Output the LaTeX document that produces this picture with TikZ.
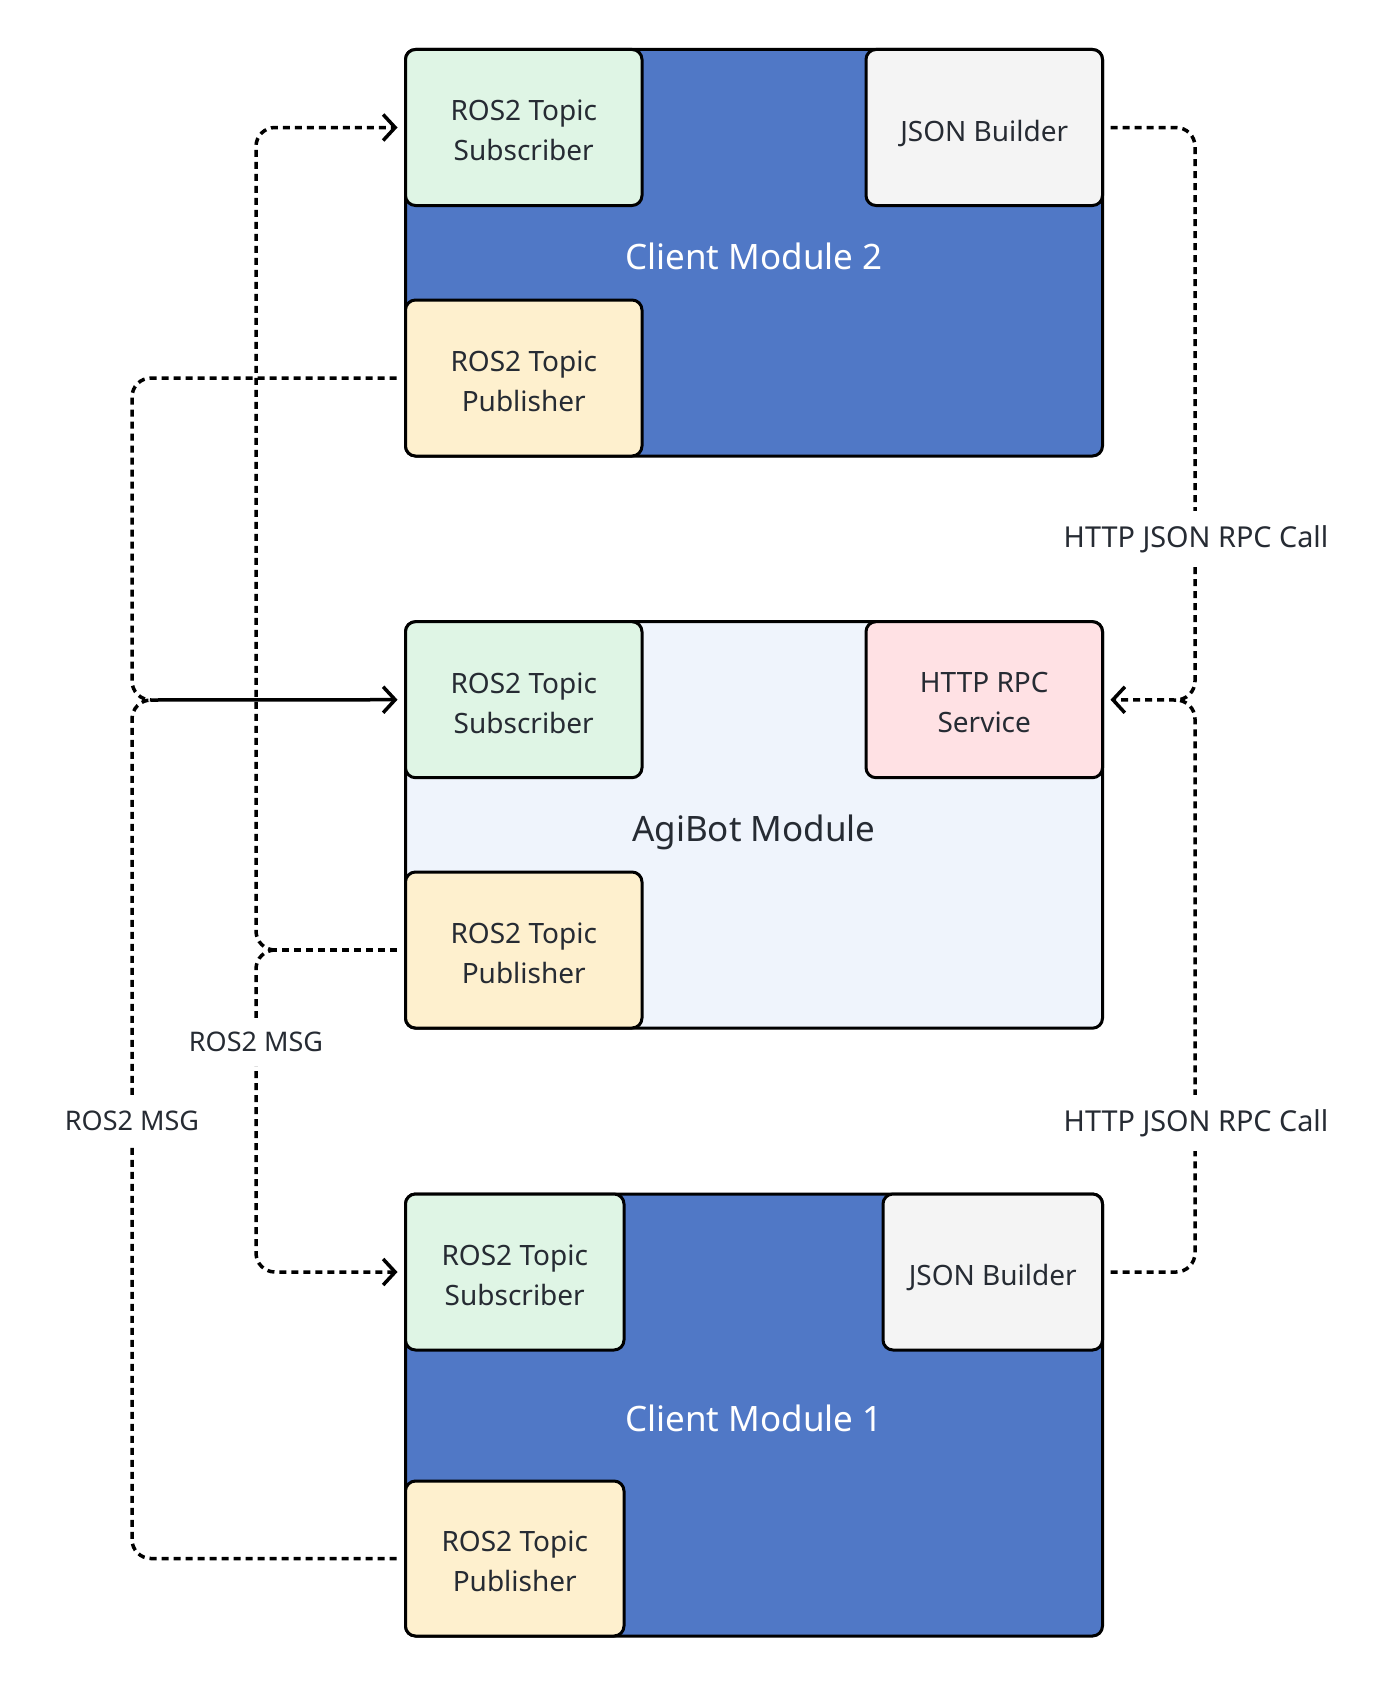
\documentclass[tikz,border=0pt]{standalone}
\usepackage{fontspec}
\setmainfont{Noto Sans}
\usetikzlibrary{arrows.meta}
\definecolor{cmblue}{HTML}{5078C6}
\definecolor{subgreen}{HTML}{DFF5E5}
\definecolor{pubyellow}{HTML}{FEF0CE}
\definecolor{jsongrey}{HTML}{F4F4F4}
\definecolor{rpcpink}{HTML}{FFE1E4}
\definecolor{agibg}{HTML}{EFF4FC}
\definecolor{txt}{HTML}{262B33}
\tikzset{
  modbox/.style={draw=black, line width=3pt, rounded corners=10pt, outer sep=0pt, anchor=north west},
  inbox/.style={draw=black, line width=3pt, rounded corners=10pt, outer sep=0pt, anchor=north west},
  titletext/.style={font=\fontsize{35}{42}\selectfont, text depth=0pt, yshift=-3.5pt, inner sep=0pt},
  boxtext/.style={align=center, text=txt, font=\fontsize{28}{40}\selectfont, text depth=0pt, yshift=-3pt, inner sep=0pt},
  conn/.style={line width=3.5pt, dash pattern=on 7pt off 5pt, rounded corners=19pt},
  tip/.style={-{Straight Barb[length=12pt,width=26pt,line width=3.5pt]}},
  lbl/.style={fill=white, text=txt, inner xsep=4pt, inner ysep=14pt, font=\fontsize{27}{32}\selectfont},
  lblwide/.style={lbl, font=\fontsize{28.8}{34}\selectfont}
}
\begin{document}
\begin{tikzpicture}[x=1pt,y=-1pt]
\useasboundingbox[fill=white] (0,0) rectangle (1394,1686);

% Client Module 2
\node[modbox, fill=cmblue, minimum width=697pt, minimum height=406.5pt] (cm2) at (405.5,49.5) {};
\node[titletext, text=white] (cm2t) at (cm2.center) {Client Module 2};
\node[inbox, fill=subgreen, minimum width=236.5pt, minimum height=156pt] (cm2sub) at (405.5,49.5) {};
\node[inbox, fill=jsongrey, minimum width=236.5pt, minimum height=156pt] (cm2json) at (866,49.5) {};
\node[inbox, fill=pubyellow, minimum width=236.5pt, minimum height=156pt] (cm2pub) at (405.5,300) {};
\node[boxtext] (cm2subt) at (cm2sub.center) {ROS2 Topic\\Subscriber};
\node[boxtext] (cm2jsont) at (cm2json.center) {JSON Builder};
\node[boxtext] (cm2pubt) at (cm2pub.center) {ROS2 Topic\\Publisher};

% AgiBot Module
\node[modbox, fill=agibg, minimum width=697pt, minimum height=406.5pt] (agi) at (405.5,621.7) {};
\node[titletext, text=txt] (agit) at (agi.center) {AgiBot Module};
\node[inbox, fill=subgreen, minimum width=236.5pt, minimum height=156pt] (agsub) at (405.5,621.7) {};
\node[inbox, fill=rpcpink, minimum width=236.5pt, minimum height=156pt] (rpc) at (866,621.7) {};
\node[inbox, fill=pubyellow, minimum width=236.5pt, minimum height=156pt] (agpub) at (405.5,872) {};
\node[boxtext] (agsubt) at (agsub.center) {ROS2 Topic\\Subscriber};
\node[boxtext] (rpct) at (rpc.center) {HTTP RPC\\Service};
\node[boxtext] (agpubt) at (agpub.center) {ROS2 Topic\\Publisher};

% Client Module 1
\node[modbox, fill=cmblue, minimum width=697pt, minimum height=442pt] (cm1) at (405.5,1194) {};
\node[titletext, text=white] (cm1t) at (cm1.center) {Client Module 1};
\node[inbox, fill=subgreen, minimum width=218.5pt, minimum height=156pt] (cm1sub) at (405.5,1194) {};
\node[inbox, fill=jsongrey, minimum width=219.5pt, minimum height=156pt] (cm1json) at (883,1194) {};
\node[inbox, fill=pubyellow, minimum width=218.5pt, minimum height=155pt] (cm1pub) at (405.5,1481) {};
\node[boxtext] (cm1subt) at (cm1sub.center) {ROS2 Topic\\Subscriber};
\node[boxtext] (cm1jsont) at (cm1json.center) {JSON Builder};
\node[boxtext] (cm1pubt) at (cm1pub.center) {ROS2 Topic\\Publisher};

% join points
\coordinate (ljoin) at (151,700);
\coordinate (ijoin) at (275,950);
\coordinate (rjoin) at (1176,700);

% left: publishers of client modules -> AgiBot subscriber
\draw[conn, shorten <=9pt] (cm2pub.west) -- (132,378) -- (132,700) -- (ljoin);
\draw[conn, shorten <=9pt] (cm1pub.west) -- (132,1558.5) -- (132,700) -- (ljoin);
\draw[line width=3.5pt, tip, shorten >=8pt] (ljoin) -- (agsub.west);

% inner: AgiBot publisher -> client subscribers
\draw[conn, shorten <=9pt] (agpub.west) -- (ijoin);
\draw[conn, tip, shorten >=8pt] (ijoin) -- (256,950) -- (256,127.5) -- (cm2sub.west);
\draw[conn, tip, shorten >=8pt] (ijoin) -- (256,950) -- (256,1272) -- (cm1sub.west);

% right: JSON builders -> HTTP RPC service
\draw[conn, shorten <=8pt] (cm2json.east) -- (1195,127.5) -- (1195,700) -- (rjoin);
\draw[conn, shorten <=8pt] (cm1json.east) -- (1195,1272) -- (1195,700) -- (rjoin);
\draw[conn, tip, shorten >=8pt] (rjoin) -- (rpc.east);

% labels
\node[lbl] (l1) at (256,1042) {ROS2 MSG};
\node[lbl] (l2) at (132,1121) {ROS2 MSG};
\node[lblwide] (l3) at (1196,539) {HTTP JSON RPC Call};
\node[lblwide] (l4) at (1196,1123) {HTTP JSON RPC Call};
\end{tikzpicture}
\end{document}
